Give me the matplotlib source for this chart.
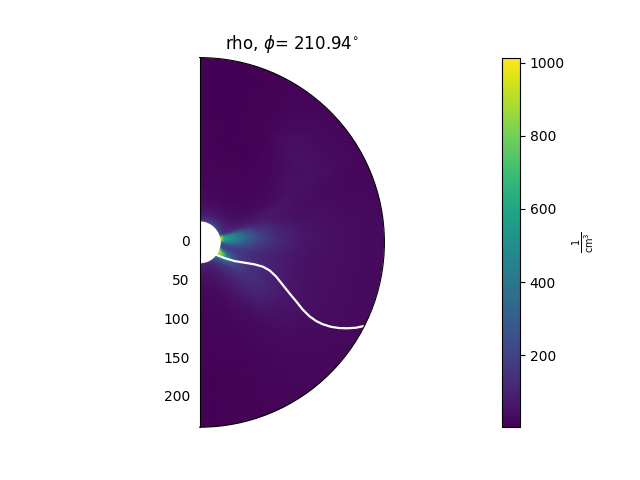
import numpy as np
import matplotlib
matplotlib.use("Agg")
import matplotlib.pyplot as plt
from matplotlib.ticker import MultipleLocator

r_grid = [28, 32, 38, 46, 58, 75, 100, 130, 170, 210, 245]
theta_grid = [0, 15, 30, 45, 60, 67, 71, 76, 82, 88, 94, 100, 106, 112, 118, 124, 132, 145, 160, 180]
rho = [
    [170, 110, 70, 45, 30, 20, 14, 12, 10, 10, 10],
    [190, 120, 75, 45, 28, 18, 13, 11, 10, 10, 10],
    [230, 140, 85, 48, 25, 16, 12, 11, 13, 13, 13],
    [250, 150, 90, 52, 28, 17, 14, 20, 48, 30, 18],
    [230, 140, 95, 70, 42, 28, 32, 50, 50, 28, 20],
    [230, 150, 115, 95, 78, 62, 68, 50, 34, 26, 22],
    [300, 180, 140, 130, 115, 85, 62, 42, 32, 26, 24],
    [850, 560, 470, 400, 270, 150, 85, 50, 36, 30, 26],
    [980, 640, 560, 480, 350, 210, 110, 60, 40, 32, 28],
    [650, 520, 480, 430, 320, 210, 120, 68, 44, 34, 28],
    [210, 280, 300, 290, 240, 170, 105, 62, 42, 34, 28],
    [170, 180, 190, 190, 165, 125, 90, 58, 40, 34, 28],
    [380, 260, 210, 190, 160, 120, 90, 58, 40, 34, 28],
    [850, 560, 340, 240, 175, 130, 95, 62, 42, 34, 26],
    [1000, 880, 560, 310, 195, 140, 105, 64, 42, 32, 24],
    [760, 580, 420, 280, 185, 140, 110, 64, 40, 30, 24],
    [350, 270, 210, 160, 130, 120, 100, 58, 34, 26, 22],
    [190, 130, 95, 85, 75, 65, 45, 30, 24, 20, 18],
    [130, 95, 70, 55, 42, 30, 22, 18, 15, 14, 14],
    [110, 85, 60, 42, 30, 22, 15, 12, 11, 11, 11],
]
sheet_theta = [125.7, 122.1, 118.1, 114.3, 111.8, 111.0, 111.8, 114.1, 117.1, 119.4, 121.5, 123.1, 123.9, 124.0, 123.6, 122.7, 121.5, 120.1, 118.6, 117.2]
sheet_r = [28.2, 38.1, 51.2, 63.6, 76.3, 87.4, 97.2, 108.3, 120.7, 132.5, 146.7, 159.0, 171.0, 181.5, 190.8, 201.8, 211.6, 221.0, 230.0, 236.8]
r_ticks = [0, 50, 100, 150, 200]
cbar_ticks = [200, 400, 600, 800, 1000]

fig, ax = plt.subplots(subplot_kw={"projection": "polar"})
ax.set_theta_zero_location("N")
ax.set_theta_direction(-1)
T, R = np.meshgrid(np.deg2rad(theta_grid), r_grid, indexing="ij")
mesh = ax.pcolormesh(T, R, np.array(rho), shading="gouraud", cmap="viridis", vmin=3.3, vmax=1014)
ax.plot(np.deg2rad(sheet_theta), sheet_r, color="white", lw=1.6)
ax.set_thetamin(0)
ax.set_thetamax(180)
ax.set_rlim(0, 238.5)
ax.set_rticks(r_ticks)
ax.yaxis.set_minor_locator(MultipleLocator(10))
ax.tick_params(axis="y", which="minor", length=1.5, width=0.6)
ax.tick_params(axis="y", which="major", labelleft=False, labelright=True)
ax.set_xticks([])
ax.grid(False)
ax.set_title(r"rho, $\phi$= 210.94$^{\circ}$")
cb = fig.colorbar(mesh, ax=ax, ticks=cbar_ticks)
cb.set_label(r"$\frac{1}{\mathrm{cm}^3}$")
fig.savefig("out.png", dpi=100)
